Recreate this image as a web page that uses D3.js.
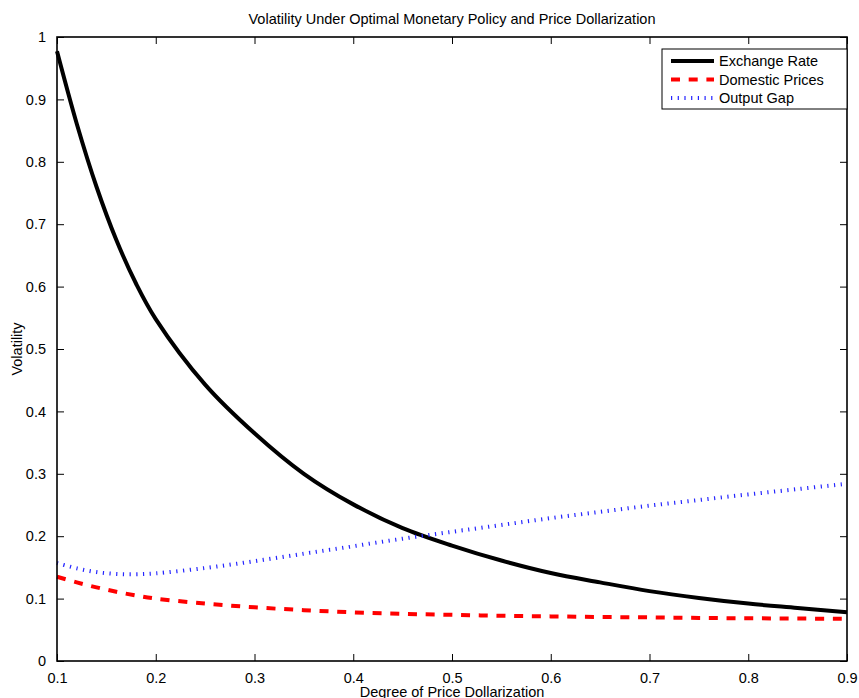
<!DOCTYPE html>
<html>
<head>
<meta charset="utf-8">
<script src="https://cdn.jsdelivr.net/npm/d3@7"></script>
<style>
  body { margin: 0; background: #fff; }
  svg text { font-family: "Liberation Sans", Arial, Helvetica, sans-serif; fill: #000; }
</style>
</head>
<body>
<svg id="chart" width="859" height="698"></svg>
<script>
// degree of price dollarization (x grid)
const dollarization = [0.10, 0.12, 0.14, 0.16, 0.18, 0.20, 0.25, 0.30, 0.35, 0.40, 0.45,
                       0.50, 0.55, 0.60, 0.65, 0.70, 0.75, 0.80, 0.85, 0.90];
const exchangeRate   = [0.977, 0.861, 0.760, 0.675, 0.605, 0.548, 0.443, 0.365, 0.300, 0.251, 0.213,
                        0.185, 0.161, 0.141, 0.126, 0.112, 0.101, 0.092, 0.085, 0.078];
const domesticPrices = [0.135, 0.126, 0.118, 0.111, 0.105, 0.100, 0.092, 0.086, 0.0815, 0.078, 0.0755,
                        0.074, 0.0725, 0.0715, 0.0705, 0.070, 0.069, 0.0685, 0.068, 0.0675];
const outputGap      = [0.157, 0.1485, 0.1425, 0.1395, 0.139, 0.1405, 0.149, 0.160, 0.172, 0.184, 0.196,
                        0.207, 0.218, 0.229, 0.239, 0.249, 0.258, 0.267, 0.2755, 0.284];

const xTicks = [0.1, 0.2, 0.3, 0.4, 0.5, 0.6, 0.7, 0.8, 0.9];
const yTicks = [0, 0.1, 0.2, 0.3, 0.4, 0.5, 0.6, 0.7, 0.8, 0.9, 1];

const seriesNames = ["Exchange Rate", "Domestic Prices", "Output Gap"];

const svg = d3.select("#chart");
const pLeft = 57, pRight = 847, pTop = 37, pBottom = 661;
const fontSize = "14.5px";

const x = d3.scaleLinear().domain([0.1, 0.9]).range([pLeft, pRight]);
const y = d3.scaleLinear().domain([0, 1]).range([pBottom, pTop]);

const styles = [
  { color: "#000", width: 4, dash: null },
  { color: "#ff0000", width: 4, dash: "9,8.7" },
  { color: "#2424ff", width: 4, dash: "1.2,5.5" }
];
const series = [exchangeRate, domesticPrices, outputGap];

// lines
const line = d3.line().x(d => x(d[0])).y(d => y(d[1])).curve(d3.curveCatmullRom.alpha(0.5));
series.forEach((vals, i) => {
  svg.append("path")
    .datum(dollarization.map((d, j) => [d, vals[j]]))
    .attr("fill", "none")
    .attr("stroke", styles[i].color)
    .attr("stroke-width", styles[i].width)
    .attr("stroke-dasharray", styles[i].dash)
    .attr("d", line);
});

// axes: MATLAB-style box with inward ticks on all sides
const tickLen = 7;
const axB = svg.append("g").attr("transform", `translate(0,${pBottom})`)
  .call(d3.axisBottom(x).tickValues(xTicks).tickSizeInner(-tickLen).tickSizeOuter(0).tickPadding(12).tickFormat(d3.format("")));
const axT = svg.append("g").attr("transform", `translate(0,${pTop})`)
  .call(d3.axisTop(x).tickValues(xTicks).tickSizeInner(-tickLen).tickSizeOuter(0).tickFormat(""));
const axL = svg.append("g").attr("transform", `translate(${pLeft},0)`)
  .call(d3.axisLeft(y).tickValues(yTicks).tickSizeInner(-tickLen).tickSizeOuter(0).tickPadding(11).tickFormat(d3.format("")));
const axR = svg.append("g").attr("transform", `translate(${pRight},0)`)
  .call(d3.axisRight(y).tickValues(yTicks).tickSizeInner(-tickLen).tickSizeOuter(0).tickFormat(""));

[axB, axT, axL, axR].forEach(g => {
  g.select(".domain").remove();
  g.selectAll("line").attr("stroke", "#000").attr("stroke-width", 1);
  g.selectAll("text").style("font-size", fontSize).attr("fill", "#000");
});
axB.selectAll("text").attr("dy", "0.71em");

svg.append("rect")
  .attr("x", pLeft).attr("y", pTop)
  .attr("width", pRight - pLeft).attr("height", pBottom - pTop)
  .attr("fill", "none").attr("stroke", "#000").attr("stroke-width", 1.6);

// title and axis labels
svg.append("text")
  .attr("x", (pLeft + pRight) / 2).attr("y", 24)
  .attr("text-anchor", "middle").style("font-size", fontSize)
  .text("Volatility Under Optimal Monetary Policy and Price Dollarization");

svg.append("text")
  .attr("x", (pLeft + pRight) / 2).attr("y", 697)
  .attr("text-anchor", "middle").style("font-size", fontSize)
  .text("Degree of Price Dollarization");

svg.append("text")
  .attr("transform", `translate(22,${(pTop + pBottom) / 2}) rotate(-90)`)
  .attr("text-anchor", "middle").style("font-size", fontSize)
  .text("Volatility");

// legend
const lg = svg.append("g").attr("transform", "translate(662,49)");
lg.append("rect")
  .attr("width", 185).attr("height", 60)
  .attr("fill", "#fff").attr("stroke", "#000").attr("stroke-width", 1);
seriesNames.forEach((name, i) => {
  const ly = 12 + i * 18.5;
  lg.append("line")
    .attr("x1", 9).attr("x2", 52).attr("y1", ly).attr("y2", ly)
    .attr("stroke", styles[i].color)
    .attr("stroke-width", styles[i].width)
    .attr("stroke-dasharray", styles[i].dash);
  lg.append("text")
    .attr("x", 57).attr("y", ly).attr("dy", "0.35em")
    .style("font-size", fontSize)
    .text(name);
});
</script>
</body>
</html>
